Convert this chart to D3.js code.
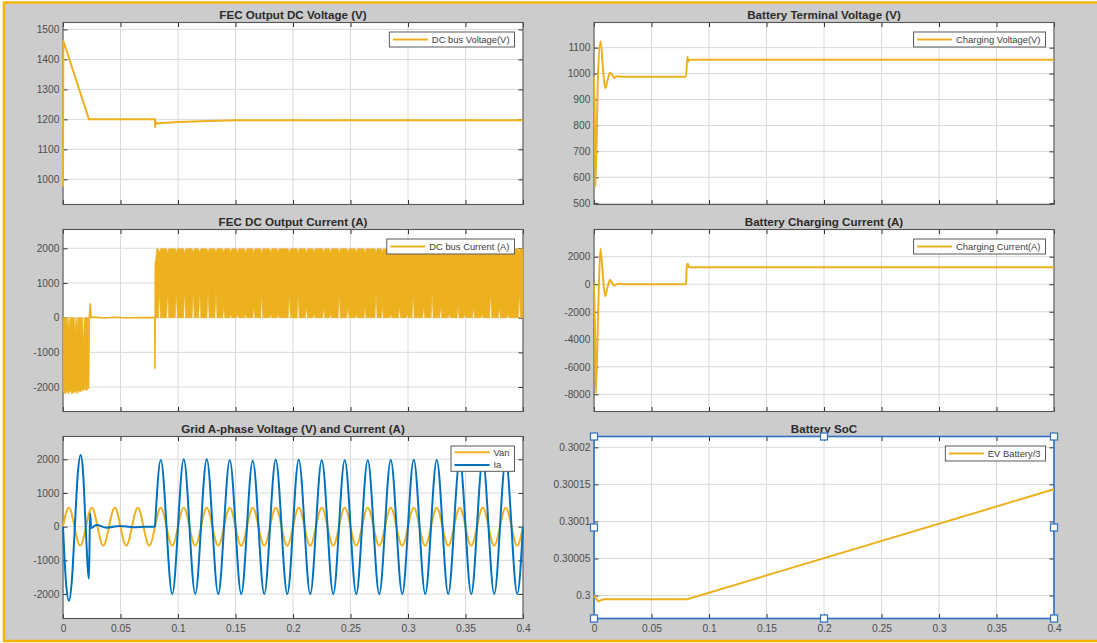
<!DOCTYPE html>
<html>
<head>
<meta charset="utf-8">
<script src="https://cdn.jsdelivr.net/npm/d3@7"></script>
<style>
  body { margin: 0; background: #ffffff; }
  svg { display: block; font-family: "Liberation Sans", Arial, Helvetica, sans-serif; }
</style>
</head>
<body>
<svg id="fig" width="1097" height="643"></svg>
<script>
// shared time axis (s)
const xTicks = [0, 0.05, 0.1, 0.15, 0.2, 0.25, 0.3, 0.35, 0.4];
const xTickLabels = ["0", "0.05", "0.1", "0.15", "0.2", "0.25", "0.3", "0.35", "0.4"];

// FEC output DC voltage
const fecVoltT = [0, 0.0003, 0.0226, 0.0799, 0.0802, 0.0806, 0.0810, 0.0830, 0.100, 0.120, 0.150, 0.200, 0.400];
const fecVoltV = [975, 1462, 1200, 1200, 1175, 1194, 1186, 1187, 1191, 1194, 1197, 1197, 1197];
const fecVoltTicks = [1000, 1100, 1200, 1300, 1400, 1500];

// FEC DC output current: negative switching band before 0.0222 s
const dcNegT   = [0.0001, 0.0018, 0.0030, 0.0036, 0.0042, 0.0049, 0.0055, 0.0061, 0.0080, 0.0098, 0.0105, 0.0112, 0.0119, 0.0125, 0.0131, 0.0150, 0.0171, 0.0178, 0.0185, 0.0205, 0.0222];
const dcNegTop = [0, 0, 0, -300, 0, 0, -350, 0, 0, 0, -450, 0, 0, -300, 0, 0, 0, -800, 0, 0, 0];
const dcNegBot = [-2150, -2200, -2120, -2180, -2100, -2200, -2150, -2100, -2200, -2120, -2180, -2080, -2150, -2200, -2100, -2150, -2080, -2120, -2060, -2100, -2050];
// idle part and the step at 0.08 s
const dcIdleT = [0.0222, 0.0229, 0.0236, 0.0244, 0.028, 0.035, 0.045, 0.055, 0.065, 0.0798, 0.0800, 0.0803];
const dcIdleV = [-2050, 0, 400, 0, 15, -10, 10, -10, 5, 0, -1460, 1600];
// positive switching band after 0.08 s: white teeth rising from 0
const dcToothT = [0.0838, 0.0910, 0.0985, 0.1057, 0.1132, 0.1189, 0.1261, 0.1330, 0.1398, 0.1458, 0.1518, 0.1587, 0.1659, 0.1728, 0.1806, 0.1871, 0.1968, 0.2045, 0.2117, 0.2183, 0.2267, 0.2327, 0.2402, 0.2477, 0.2551, 0.2626, 0.2722, 0.2776, 0.2850, 0.2925, 0.2995, 0.3045, 0.3136, 0.3210, 0.3285, 0.3360, 0.3435, 0.3495, 0.3570, 0.3644, 0.3719, 0.3794, 0.3869, 0.3968];
const dcToothH = [750, 750, 750, 750, 750, 750, 750, 750, 300, 100, 100, 100, 300, 700, 100, 100, 700, 700, 300, 100, 300, 100, 700, 300, 100, 300, 700, 300, 100, 300, 100, 700, 300, 700, 300, 100, 300, 100, 300, 100, 750, 300, 100, 700];
const dcBandTop = 1985, dcNotchTop = 1880;
const dcTicks = [-2000, -1000, 0, 1000, 2000];

// grid A-phase voltage
const vanT = [0, 0.005, 0.01, 0.015, 0.02, 0.025, 0.03, 0.035, 0.04, 0.045, 0.05, 0.055, 0.06, 0.065, 0.07, 0.075, 0.08, 0.085, 0.09, 0.095, 0.1, 0.105, 0.11, 0.115, 0.12, 0.125, 0.13, 0.135, 0.14, 0.145, 0.15, 0.155, 0.16, 0.165, 0.17, 0.175, 0.18, 0.185, 0.19, 0.195, 0.2, 0.205, 0.21, 0.215, 0.22, 0.225, 0.23, 0.235, 0.24, 0.245, 0.25, 0.255, 0.26, 0.265, 0.27, 0.275, 0.28, 0.285, 0.29, 0.295, 0.3, 0.305, 0.31, 0.315, 0.32, 0.325, 0.33, 0.335, 0.34, 0.345, 0.35, 0.355, 0.36, 0.365, 0.37, 0.375, 0.38, 0.385, 0.39, 0.395, 0.4];
const vanV = [0, 565, 0, -565, 0, 565, 0, -565, 0, 565, 0, -565, 0, 565, 0, -565, 0, 565, 0, -565, 0, 565, 0, -565, 0, 565, 0, -565, 0, 565, 0, -565, 0, 565, 0, -565, 0, 565, 0, -565, 0, 565, 0, -565, 0, 565, 0, -565, 0, 565, 0, -565, 0, 565, 0, -565, 0, 565, 0, -565, 0, 565, 0, -565, 0, 565, 0, -565, 0, 565, 0, -565, 0, 565, 0, -565, 0, 565, 0, -565, 0];
// grid A-phase current: start-up transient, then steady state
const iaStartT = [0, 0.0026, 0.0052, 0.0078, 0.0103, 0.0128, 0.0154, 0.0175, 0.0197, 0.0226, 0.0235, 0.0245, 0.029, 0.038, 0.0496, 0.061, 0.072, 0.08];
const iaStartV = [0, -1650, -2200, -1550, 0, 1550, 2130, 1600, 0, -1550, 400, -40, 50, -30, 20, -15, 0, 0];
const iaT = [0.08, 0.085, 0.09, 0.095, 0.1, 0.105, 0.11, 0.115, 0.12, 0.125, 0.13, 0.135, 0.14, 0.145, 0.15, 0.155, 0.16, 0.165, 0.17, 0.175, 0.18, 0.185, 0.19, 0.195, 0.2, 0.205, 0.21, 0.215, 0.22, 0.225, 0.23, 0.235, 0.24, 0.245, 0.25, 0.255, 0.26, 0.265, 0.27, 0.275, 0.28, 0.285, 0.29, 0.295, 0.3, 0.305, 0.31, 0.315, 0.32, 0.325, 0.33, 0.335, 0.34, 0.345, 0.35, 0.355, 0.36, 0.365, 0.37, 0.375, 0.38, 0.385, 0.39, 0.395, 0.4];
const iaV = [0, 1980, 0, -2000, 0, 2000, 0, -2000, 0, 2000, 0, -2000, 0, 1970, 0, -2000, 0, 1960, 0, -2000, 0, 1990, 0, -2000, 0, 1990, 0, -2000, 0, 1970, 0, -2000, 0, 1970, 0, -2000, 0, 1970, 0, -2000, 0, 1980, 0, -2000, 0, 1990, 0, -2000, 0, 1980, 0, -2000, 0, 1960, 0, -2000, 0, 1980, 0, -2000, 0, 1980, 0, -2000, 0];
const gridTicks = [-2000, -1000, 0, 1000, 2000];

// battery terminal voltage
const batVoltT = [0, 0.0002, 0.0012, 0.0035, 0.0057, 0.0078, 0.0097, 0.0118, 0.0139, 0.0158, 0.0176, 0.0200, 0.0250, 0.0800, 0.0812, 0.0820, 0.0835, 0.4];
const batVoltV = [990, 990, 563, 1000, 1125, 1020, 943, 975, 1003, 995, 983, 990, 988, 988, 1065, 1048, 1053, 1053];
const batVoltTicks = [500, 600, 700, 800, 900, 1000, 1100];

// battery charging current
const chgT = [0, 0.0002, 0.0016, 0.0036, 0.0056, 0.0076, 0.0096, 0.0118, 0.0139, 0.0158, 0.0176, 0.0195, 0.0220, 0.0260, 0.0800, 0.0806, 0.0815, 0.0825, 0.0840, 0.4];
const chgV = [0, 0, -7950, -2000, 2590, 800, -870, -200, 310, 100, -120, 0, 40, 0, 0, 1200, 1480, 1250, 1230, 1230];
const chgTicks = [-8000, -6000, -4000, -2000, 0, 2000];

// battery state of charge
const socT = [0, 0.0015, 0.0040, 0.0065, 0.0090, 0.0120, 0.0810, 0.4];
const socV = [0.3, 0.299996, 0.299992, 0.299994, 0.299995, 0.299995, 0.299995, 0.3001434];
const socTicks = [0.3, 0.30005, 0.3001, 0.30015, 0.3002];
const socTickLabels = ["0.3", "0.30005", "0.3001", "0.30015", "0.3002"];

const yellow = "#EDB120", blue = "#0072BD";
const fig = d3.select("#fig");

// figure background with the orange selection frame
fig.append("rect").attr("x", 4).attr("y", 2.5).attr("width", 1110).attr("height", 638.5)
    .attr("fill", "#cccccc").attr("stroke", "#f4b400").attr("stroke-width", 2.5);

const colX = [[63, 523], [594, 1054]];
const rowY = [[22.5, 204.5], [229.5, 411.5], [436.5, 618.5]];

function pairs(t, v) { return t.map((d, i) => [d, v[i]]); }

// band points [t, low, high] for the switching current after 0.08 s
function toothBand() {
    const pts = [[0.0803, 0, 1600], [0.0815, 0, dcBandTop]];
    dcToothT.forEach((t, i) => {
        pts.push([t - 0.0009, 0, dcBandTop], [t, dcToothH[i], dcNotchTop], [t + 0.0009, 0, dcBandTop]);
    });
    pts.push([0.4, 0, dcBandTop]);
    return pts;
}

const panels = [
    { title: "FEC Output DC Voltage (V)", col: 0, row: 0, yDomain: [916, 1523], yTicks: fecVoltTicks,
      series: [{ pts: pairs(fecVoltT, fecVoltV), color: yellow, width: 2 }],
      legend: [{ label: "DC bus Voltage(V)", color: yellow }] },
    { title: "FEC DC Output Current (A)", col: 0, row: 1, yDomain: [-2706, 2542], yTicks: dcTicks,
      series: [
        { area: true, pts: dcNegT.map((t, i) => [t, dcNegBot[i], dcNegTop[i]]), color: yellow },
        { pts: pairs(dcIdleT, dcIdleV), color: yellow, width: 1.6 },
        { area: true, pts: toothBand(), color: yellow }
      ],
      legend: [{ label: "DC bus Current (A)", color: yellow }] },
    { title: "Grid A-phase Voltage (V) and Current (A)", col: 0, row: 2, yDomain: [-2727, 2677], yTicks: gridTicks,
      series: [
        { pts: pairs(vanT, vanV), color: yellow, width: 2, curve: d3.curveNatural },
        { pts: pairs(iaStartT, iaStartV), color: blue, width: 2, curve: d3.curveMonotoneX },
        { pts: pairs(iaT, iaV), color: blue, width: 2, curve: d3.curveNatural }
      ],
      legend: [{ label: "Van", color: yellow }, { label: "Ia", color: blue }] },
    { title: "Battery Terminal Voltage (V)", col: 1, row: 0, yDomain: [495, 1197], yTicks: batVoltTicks,
      series: [{ pts: pairs(batVoltT, batVoltV), color: yellow, width: 2, curve: d3.curveMonotoneX }],
      legend: [{ label: "Charging Voltage(V)", color: yellow }] },
    { title: "Battery Charging Current (A)", col: 1, row: 1, yDomain: [-9250, 3977], yTicks: chgTicks,
      series: [{ pts: pairs(chgT, chgV), color: yellow, width: 2, curve: d3.curveMonotoneX }],
      legend: [{ label: "Charging Current(A)", color: yellow }] },
    { title: "Battery SoC", col: 1, row: 2, yDomain: [0.299969, 0.3002146], yTicks: socTicks,
      yFormat: (d, k) => socTickLabels[k], selected: true,
      series: [{ pts: pairs(socT, socV), color: yellow, width: 2 }],
      legend: [{ label: "EV Battery/3", color: yellow }] }
];

function styleAxis(sel) {
    sel.select(".domain").remove();
    sel.attr("font-family", null).attr("font-size", 10.2).attr("color", "#4d4d4d");
    sel.selectAll(".tick line").attr("stroke", "#333333");
}

function drawLegend(g, items, right, top) {
    const pad = items.length === 1 ? 7.5 : 6.3, step = 12.7;
    const lg = g.append("g");
    const box = lg.append("rect");
    const texts = items.map(it => lg.append("text").text(it.label)
        .attr("font-size", 9.4).attr("fill", "#404040").attr("dy", "0.35em"));
    const tw = d3.max(texts, t => t.node().getComputedTextLength());
    const w = 42.5 + tw + 5, h = 2 * pad + (items.length - 1) * step;
    const left = right - w;
    box.attr("x", left).attr("y", top).attr("width", w).attr("height", h)
        .attr("fill", "#ffffff").attr("stroke", "#5a5a5a").attr("stroke-width", 1);
    items.forEach((it, k) => {
        const cy = top + pad + k * step;
        lg.append("line").attr("x1", left + 3.5).attr("x2", left + 38.5).attr("y1", cy).attr("y2", cy)
            .attr("stroke", it.color).attr("stroke-width", 2);
        texts[k].attr("x", left + 42.5).attr("y", cy);
    });
}

panels.forEach((p, i) => {
    const [x0, x1] = colX[p.col], [y0, y1] = rowY[p.row];
    const x = d3.scaleLinear().domain([0, 0.4]).range([x0, x1]);
    const y = d3.scaleLinear().domain(p.yDomain).range([y1, y0]);
    const g = fig.append("g");

    g.append("rect").attr("x", x0).attr("y", y0).attr("width", x1 - x0).attr("height", y1 - y0).attr("fill", "#ffffff");

    // grid
    g.append("g").selectAll("line").data(xTicks).join("line")
        .attr("x1", d => x(d)).attr("x2", d => x(d)).attr("y1", y0).attr("y2", y1)
        .attr("stroke", "#dadada");
    g.append("g").selectAll("line").data(p.yTicks).join("line")
        .attr("x1", x0).attr("x2", x1).attr("y1", d => y(d)).attr("y2", d => y(d))
        .attr("stroke", "#dadada");

    // axes, ticks pointing inwards on all four sides
    const showX = p.row === 2;
    g.append("g").attr("transform", `translate(0,${y1})`)
        .call(d3.axisBottom(x).tickValues(xTicks).tickSizeInner(-4.5).tickSizeOuter(0).tickPadding(6)
            .tickFormat((d, k) => showX ? xTickLabels[k] : ""))
        .call(styleAxis);
    g.append("g").attr("transform", `translate(0,${y0})`)
        .call(d3.axisTop(x).tickValues(xTicks).tickSizeInner(-4.5).tickSizeOuter(0).tickFormat(""))
        .call(styleAxis);
    g.append("g").attr("transform", `translate(${x0},0)`)
        .call(d3.axisLeft(y).tickValues(p.yTicks).tickSizeInner(-4.5).tickSizeOuter(0).tickPadding(3.7)
            .tickFormat(p.yFormat || (d => d)))
        .call(styleAxis);
    g.append("g").attr("transform", `translate(${x1},0)`)
        .call(d3.axisRight(y).tickValues(p.yTicks).tickSizeInner(-4.5).tickSizeOuter(0).tickFormat(""))
        .call(styleAxis);

    g.append("rect").attr("x", x0).attr("y", y0).attr("width", x1 - x0).attr("height", y1 - y0)
        .attr("fill", "none")
        .attr("stroke", p.selected ? "#2e6fc4" : "#555555")
        .attr("stroke-width", p.selected ? 1.6 : 1.1);

    // data, drawn over the box edge like the original
    fig.append("clipPath").attr("id", "clip" + i).append("rect")
        .attr("x", x0 - 1).attr("y", y0).attr("width", x1 - x0 + 2).attr("height", y1 - y0);
    const plot = g.append("g").attr("clip-path", `url(#clip${i})`);
    p.series.forEach(s => {
        if (s.area) {
            plot.append("path").datum(s.pts).attr("fill", s.color)
                .attr("stroke", s.color).attr("stroke-width", 0.6)
                .attr("d", d3.area().x(d => x(d[0])).y0(d => y(d[1])).y1(d => y(d[2])));
        } else {
            plot.append("path").datum(s.pts).attr("fill", "none")
                .attr("stroke", s.color).attr("stroke-width", s.width).attr("stroke-linejoin", "round")
                .attr("d", d3.line().curve(s.curve || d3.curveLinear).x(d => x(d[0])).y(d => y(d[1])));
        }
    });

    g.append("text").text(p.title)
        .attr("x", (x0 + x1) / 2).attr("y", y0 - 3.8).attr("text-anchor", "middle")
        .attr("font-size", 11.6).attr("font-weight", "bold").attr("fill", "#2b2b2b");

    drawLegend(g, p.legend, x1 - 8.5, y0 + 9.5);

    if (p.selected) {
        const hx = [x0, (x0 + x1) / 2, x1], hy = [y0, (y0 + y1) / 2, y1];
        const handles = [];
        hy.forEach((yy, r) => hx.forEach((xx, c) => { if (!(r === 1 && c === 1)) handles.push([xx, yy]); }));
        g.append("g").selectAll("rect").data(handles).join("rect")
            .attr("x", d => d[0] - 3.5).attr("y", d => d[1] - 3.5).attr("width", 7).attr("height", 7)
            .attr("fill", "#ffffff").attr("stroke", "#2e6fc4").attr("stroke-width", 1.2);
    }
});
</script>
</body>
</html>
